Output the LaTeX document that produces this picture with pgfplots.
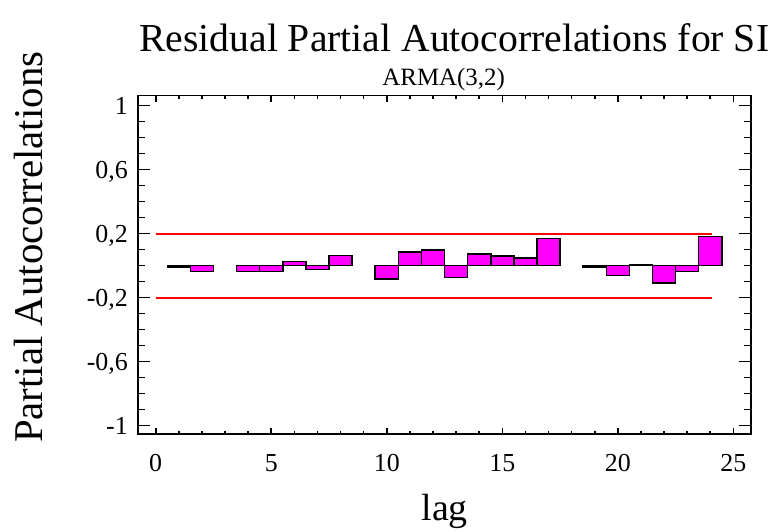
\documentclass[border=0pt]{standalone}
\usepackage{fontspec}
\setmainfont{Liberation Serif}
\usepackage{pgfplots}
\pgfplotsset{compat=1.18}
\definecolor{barmag}{RGB}{255,0,255}
\definecolor{limred}{RGB}{255,0,0}
\begin{document}
\begin{tikzpicture}
\pgfplotsset{
  common/.style={
    at={(0bp,0bp)}, anchor=south west,
    width=613bp, height=338.6bp, scale only axis,
    xmin=-0.78, xmax=25.75, ymin=-1.054, ymax=1.0625,
    axis line style={line width=1.6bp},
    tick style={black, line width=1.6bp},
    tick align=inside,
    clip=false,
  }
}
% axis with y ticks and data
\begin{axis}[common,
  xtick=\empty,
  ytick={-1,-0.6,-0.2,0.2,0.6,1},
  yticklabels={-1,{-0,6},{-0,2},{0,2},{0,6},1},
  minor ytick={-0.9,-0.8,-0.7,-0.5,-0.4,-0.3,-0.1,0,0.1,0.3,0.4,0.5,0.7,0.8,0.9},
  major tick length=12bp, minor tick length=7bp,
  ytick pos=both,
  yticklabel style={font=\fontsize{26}{28}\selectfont, anchor=base east, inner sep=0pt, xshift=-9.7bp, yshift=-8.8bp},
]
\addplot[color=limred, solid, mark=none, line width=2bp] coordinates {(0,0.2) (24.07,0.2)};
\addplot[color=limred, solid, mark=none, line width=2bp] coordinates {(0,-0.2) (24.07,-0.2)};
\addplot[ybar, bar width=1, fill=barmag, draw=black, line width=1.5bp] coordinates {
  (1,-0.008) (2,-0.035) (4,-0.035) (5,-0.035) (6,0.027) (7,-0.025) (8,0.0625)
  (10,-0.083) (11,0.085) (12,0.098) (13,-0.073) (14,0.073) (15,0.06) (16,0.048) (17,0.169)
  (19,-0.008) (20,-0.06) (21,0.004) (22,-0.108) (23,-0.035) (24,0.181)
};
\end{axis}
% axis with x ticks
\begin{axis}[common,
  ytick=\empty,
  xtick={0,5,10,15,20,25},
  xticklabels={0,5,10,15,20,25},
  minor x tick num=4,
  major tick length=6bp, minor tick length=3.5bp,
  xtick pos=both,
  xticklabel style={font=\fontsize{26}{28}\selectfont, anchor=base, inner sep=0pt, yshift=-37.5bp},
]
\end{axis}
\node[anchor=base, inner sep=0pt, font=\fontsize{39.8}{42}\selectfont] at (316.5bp,383bp) {Residual Partial Autocorrelations for SI};
\node[anchor=base, inner sep=0pt, font=\fontsize{25}{27}\selectfont] at (306bp,349bp) {ARMA(3,2)};
\node[anchor=base, inner sep=0pt, font=\fontsize{38}{40}\selectfont] at (307bp,-86bp) {lag};
\node[anchor=base, rotate=90, inner sep=0pt, font=\fontsize{41}{43}\selectfont] at (-95bp,187bp) {Partial Autocorrelations};
\pgfresetboundingbox
\path[use as bounding box] (-137.7bp,-97.7bp) rectangle ++(771bp,532bp);
\end{tikzpicture}
\end{document}
